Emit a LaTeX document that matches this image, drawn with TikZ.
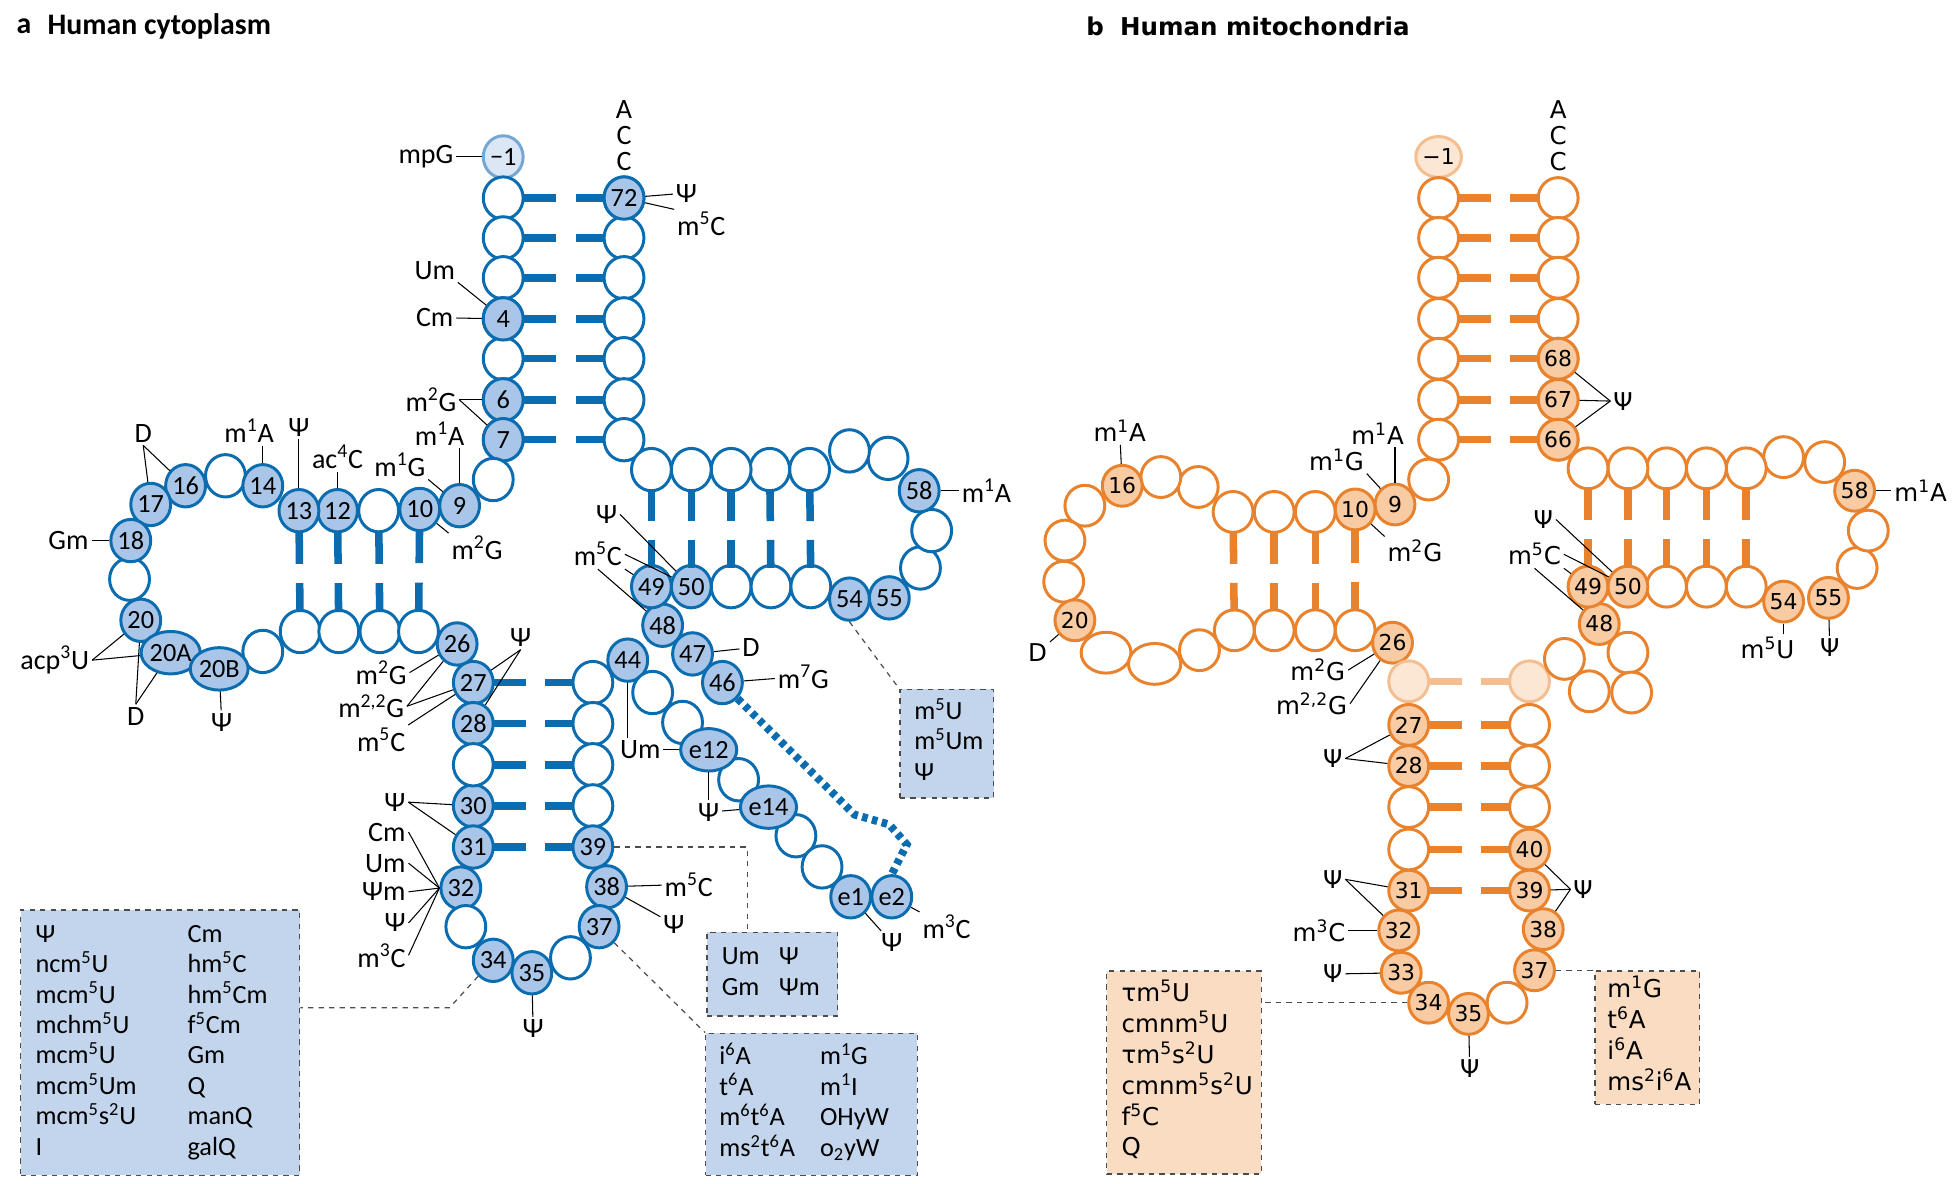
\documentclass[tikz,border=0pt]{standalone}
\usepackage{fontspec}
\setmainfont{Carlito}
\newfontfamily\fb{DejaVu Sans}
\usetikzlibrary{shapes.geometric, calc, positioning}
\definecolor{cblue}{HTML}{0B6DB0}
\definecolor{lblue}{HTML}{A9C6E8}
\definecolor{bxblue}{HTML}{C3D5EC}
\definecolor{fblue}{HTML}{DCE7F5}
\definecolor{fbline}{HTML}{76A6D2}
\definecolor{corange}{HTML}{E9822C}
\definecolor{lorange}{HTML}{F9CBA3}
\definecolor{bxor}{HTML}{FADCC3}
\definecolor{foline}{HTML}{F4BE90}
\definecolor{fofill}{HTML}{FCE6D4}
\newcommand\su[1]{\textsuperscript{#1}}
\newcommand\pairbar[3]{\draw[#1] ($(#2)!0.17!(#3)$) -- ($(#2)!0.44!(#3)$) ($(#2)!0.6!(#3)$) -- ($(#2)!0.84!(#3)$);}

\begin{document}
\begin{tikzpicture}[x=0.025cm, y=-0.025cm,
  nta/.style={ellipse, draw=cblue, line width=1.7pt, fill=white, minimum width=0.8cm, minimum height=0.85cm, inner sep=0pt, font={\fontsize{15}{15}\selectfont}},
  moda/.style={nta, fill=lblue},
  fada/.style={nta, draw=fbline, fill=fblue},
  ntb/.style={ellipse, draw=corange, line width=1.7pt, fill=white, minimum width=0.8cm, minimum height=0.82cm, inner sep=0pt, font={\fb\fontsize{12.5}{12.5}\selectfont}},
  modb/.style={ntb, fill=lorange},
  fadb/.style={ntb, draw=foline, fill=fofill},
  bara/.style={cblue, line width=4.3pt},
  barb/.style={corange, line width=4.3pt},
  laba/.style={inner sep=1.5pt, font={\fontsize{16}{16}\selectfont}},
  labb/.style={inner sep=1.5pt, font={\fb\fontsize{14}{14}\selectfont}},
  ln/.style={line width=0.6pt},
  dsh/.style={line width=0.7pt, dashed, black!70},
  boxa/.style={draw=black!70, dashed, line width=0.8pt, fill=bxblue, align=left, inner ysep=0pt, font={\fontsize{15}{17.4}\selectfont}},
  boxb/.style={draw=black!70, dashed, line width=0.8pt, fill=bxor, align=left, inner ysep=0pt, font={\fb\fontsize{14}{17.4}\selectfont}},
  tit/.style={inner sep=0pt, anchor=west, font={\bfseries\fontsize{17}{17}\selectfont}}]
  \useasboundingbox (0,0) rectangle (1568,950);

  % titles
  \node[tit] (ta) at (13,21) {a};
  \node[tit] (tat) at (38,21) {Human cytoplasm};
  \node[tit, font={\fb\bfseries\fontsize{14}{14}\selectfont}] (tb) at (872,21) {b};
  \node[tit, font={\fb\bfseries\fontsize{14}{14}\selectfont}] (tbt) at (899,21) {Human mitochondria};

  % ---------- a: cytoplasm ----------
  \node[fada] (am1) at (404,126) {−1};
  \foreach \i/\y in {1/159,2/191,3/223,4/256,5/288,6/321,7/353} {
    \node[nta] (aL\i) at (404,\y) {};
    \node[nta] (aR\i) at (501,\y) {};
  }
  \foreach \i/\t in {4/4,6/6,7/7} {\node[moda] at (aL\i) {\t};}
  \node[moda] at (aR1) {72};
  \foreach \i in {1,...,7} {\pairbar{bara}{aL\i}{aR\i}}

  % D arm
  \foreach \n/\x/\y in {a8/396/385, a11/304/410, a15/181/382, a19/104/465, a21/211/523,
      a22/241/507, a23/272/507, a24/305/507, a25/336/507}
    {\node[nta] (\n) at (\x,\y) {};}
  \foreach \n/\x/\y/\t in {a9/369/406/9, a10/337/409/10, a12/271/410/12, a13/240/410/13,
      a14/211/390/14, a16/149/390/16, a17/121/405/17, a18/105/434/18, a20/113/498/20, a26/367/517/26}
    {\node[moda] (\n) at (\x,\y) {\t};}
  \node[moda, minimum width=1.0cm] (a20A) at (137,524) {20A};
  \node[moda, minimum width=1.0cm] (a20B) at (176,537) {20B};
  \foreach \u/\l in {a10/a25, a11/a24, a12/a23, a13/a22} {\pairbar{bara}{\u}{\l}}

  % anticodon arm
  \foreach \n/\y/\t in {a27/548/27, a28/581/28, a30/647/30, a31/680/31}
    {\node[moda] (\n) at (380,\y) {\t};}
  \node[nta] (a29) at (380,614) {};
  \foreach \n/\y in {a43/548, a42/581, a41/614, a40/647} {\node[nta] (\n) at (476,\y) {};}
  \foreach \n/\x/\y/\t in {a39/476/680/39, a38/487/712/38, a37/481/744/37, a35/427/781/35,
      a34/396/771/34, a32/370/713/32, a44/504/530/44}
    {\node[moda] (\n) at (\x,\y) {\t};}
  \node[nta] (a33) at (374,744) {};
  \node[nta] (a36) at (458,769) {};
  \foreach \u/\l in {a27/a43, a28/a42, a29/a41, a30/a40, a31/a39} {\pairbar{bara}{\u}{\l}}

  % variable loop
  \foreach \n/\x/\y in {av1/524/556, av2/548/580, av3/593/626, av4/639/671, av5/660/696}
    {\node[nta] (\n) at (\x,\y) {};}
  \foreach \n/\x/\y/\t in {ae12/569/602/e12, ae14/617/648/e14, ae1/683/720/e1, ae2/716/720/e2,
      a48/532/502/48, a47/556/525/47, a46/580/548/46}
    {\node[moda] (\n) at (\x,\y) {\t};}
  \draw[cblue, line width=4.5pt, dash pattern=on 3.2pt off 2.6pt]
    (a46.south east) -- (686,654) -- (714,662) -- (728,678) -- (ae2.north);

  % T arm
  \foreach \n/\x/\y in {a51/587/471, a52/619/471, a53/651/471, a56/739/456, a57/748/426,
      a59/713/368, a60/682/362, a61/650/377, a62/618/377, a63/587/377, a64/555/377, a65/523/377}
    {\node[nta] (\n) at (\x,\y) {};}
  \foreach \n/\x/\y/\t in {a49/523/471/49, a50/555/471/50, a54/682/481/54, a55/714/480/55, a58/738/394/58}
    {\node[moda] (\n) at (\x,\y) {\t};}
  \foreach \u/\l in {a65/a49, a64/a50, a63/a51, a62/a52, a61/a53} {\pairbar{bara}{\u}{\l}}

  % labels a
  \node[laba] (lmpG) at (342,126) {mpG}; \draw[ln] (lmpG) -- (am1);
  \node[laba] (lA) at (501,88) {A};
  \node[laba] (lC1) at (501,109) {C};
  \node[laba] (lC2) at (501,130) {C};
  \node[laba] (lp72) at (551,155) {Ψ}; \draw[ln] (aR1) -- (lp72);
  \node[laba] (lm72) at (563,180) {m\su{5}C}; \draw[ln] (aR1) -- (lm72.north west);
  \node[laba] (lUm4) at (349,217) {Um}; \draw[ln] (lUm4.south east) -- (aL4);
  \node[laba] (lCm4) at (349,255) {Cm}; \draw[ln] (lCm4) -- (aL4);
  \node[laba] (lm6) at (346,321) {m\su{2}G}; \draw[ln] (lm6) -- (aL6); \draw[ln] (lm6.east) -- (aL7);
  \node[laba] (lm9a) at (353,348) {m\su{1}A}; \draw[ln] (a9.north) -- (a9.north |- lm9a.south);
  \node[laba] (lm9g) at (321,373) {m\su{1}G}; \draw[ln] (lm9g.south east) -- (a9);
  \node[laba] (lm10) at (383,440) {m\su{2}G}; \draw[ln] (a10) -- (lm10.north west);
  \node[laba] (lac12) at (271,367) {ac\su{4}C}; \draw[ln] (lac12) -- (a12);
  \node[laba] (lp13) at (240,343) {Ψ}; \draw[ln] (lp13) -- (a13);
  \node[laba] (lm14) at (200,346) {m\su{1}A}; \draw[ln] (a14.north) -- (a14.north |- lm14.south);
  \node[laba] (lD16) at (115,348) {D}; \draw[ln] (lD16.south) -- (a16); \draw[ln] (lD16.south) -- (a17);
  \node[laba] (lGm) at (55,434) {Gm}; \draw[ln] (lGm) -- (a18);
  \node[laba] (lacp) at (44,530) {acp\su{3}U}; \draw[ln] (lacp.east) -- (a20); \draw[ln] (lacp.east) -- (a20A);
  \node[laba] (lD20) at (109,575) {D}; \draw[ln] (lD20.north) -- (a20); \draw[ln] (lD20.north) -- (a20A);
  \node[laba] (lp20B) at (178,580) {Ψ}; \draw[ln] (a20B) -- (lp20B);
  \node[laba] (lm26a) at (306,540) {m\su{2}G}; \draw[ln] (lm26a.east) -- (a26);
  \node[laba] (lm26b) at (298,567) {m\su{2,2}G}; \draw[ln] (lm26b.east) -- (a26); \draw[ln] (lm26b.east) -- (a27);
  \node[laba] (lm27) at (306,594) {m\su{5}C}; \draw[ln] (lm27.north east) -- (a27);
  \node[laba] (lp27) at (418,512) {Ψ}; \draw[ln] (lp27.south) -- (a27); \draw[ln] (lp27.south) -- (a28);
  \node[laba] (lp30) at (317,644) {Ψ}; \draw[ln] (lp30.east) -- (a30); \draw[ln] (lp30.east) -- (a31);
  \foreach \n/\y/\t in {c/668/Cm, u/693/Um, q/716/Ψm, p/741/Ψ, m/767/m\su{3}C} {
    \node[laba, anchor=east] (l32\n) at (328,\y) {\t};
    \draw[ln] (l32\n.east) -- (a32.west);
  }
  \node[laba] (lm38) at (553,710) {m\su{5}C}; \draw[ln] (a38) -- (lm38);
  \node[laba] (lp38) at (541,742) {Ψ}; \draw[ln] (a38) -- (lp38);
  \node[laba] (lp35) at (428,826) {Ψ}; \draw[ln] (a35) -- (lp35);
  \node[laba] (lUm44) at (514,602) {Um};
  \draw[ln] (a44.south) -- (a44.south |- lUm44.north); \draw[ln] (lUm44) -- (ae12);
  \node[laba] (lpe14) at (569,652) {Ψ};
  \draw[ln] (ae12.south) -- (ae12.south |- lpe14.north); \draw[ln] (lpe14) -- (ae14);
  \node[laba] (lD47) at (603,520) {D}; \draw[ln] (a47) -- (lD47);
  \node[laba] (lm46) at (645,543) {m\su{7}G}; \draw[ln] (a46) -- (lm46);
  \node[laba] (lpe1) at (716,757) {Ψ}; \draw[ln] (ae1) -- (lpe1);
  \node[laba] (lme2) at (760,744) {m\su{3}C}; \draw[ln] (ae2) -- (lme2);
  \node[laba] (lm58) at (792,394) {m\su{1}A}; \draw[ln] (a58) -- (lm58);
  \node[laba] (lp50) at (487,413) {Ψ}; \draw[ln] (lp50.east) -- (a50);
  \node[laba] (lm50) at (480,445) {m\su{5}C};
  \draw[ln] (lm50.east) -- (a50); \draw[ln] (lm50.south east) -- (a49); \draw[ln] (lm50.south) -- (a48);

  % boxes a
  \node[boxa, anchor=north west, text width=5.0cm, inner xsep=0.3cm, minimum height=5.325cm] (boxa1) at (16,730)
    {\begin{tabular}{@{}p{3.05cm}@{}l@{}}
      Ψ & Cm\\ ncm\su{5}U & hm\su{5}C\\ mcm\su{5}U & hm\su{5}Cm\\ mchm\su{5}U & f\su{5}Cm\\
      mcm\su{5}U & Gm\\ mcm\su{5}Um & Q\\ mcm\su{5}s\su{2}U & manQ\\ I & galQ
    \end{tabular}};
  \node[boxa, anchor=north west, text width=2.025cm, inner xsep=0.3cm, minimum height=1.675cm] (boxa2) at (567,748)
    {\begin{tabular}{@{}p{1.15cm}@{}l@{}} Um & Ψ\\ Gm & Ψm \end{tabular}};
  \node[boxa, anchor=north west, text width=3.7cm, inner xsep=0.275cm, minimum height=2.85cm] (boxa3) at (566,829)
    {\begin{tabular}{@{}p{2.02cm}@{}l@{}} i\su{6}A & m\su{1}G\\ t\su{6}A & m\su{1}I\\ m\su{6}t\su{6}A & OHyW\\ ms\su{2}t\su{6}A & o\textsubscript{2}yW \end{tabular}};
  \node[boxa, anchor=north west, text width=1.3cm, inner xsep=0.29cm, minimum height=2.175cm] (boxa4) at (722,553)
    {\begin{tabular}{@{}l@{}} m\su{5}U\\ m\su{5}Um\\ Ψ \end{tabular}};
  \draw[dsh] (a34.south west) -- (361,809) -- (boxa1.east |- 0,809);
  \draw[dsh] (a39.east) -- (600,680) -- (boxa2.north -| 600,0);
  \draw[dsh] (a37.south east) -- (boxa3.north west);
  \draw[dsh] (a54.south) -- (boxa4.north west);

  % ---------- b: mitochondria ----------
  \node[fadb] (bm1) at (1155,126) {−1};
  \foreach \i/\y in {1/159,2/191,3/223,4/256,5/288,6/321,7/353} {
    \node[ntb] (bL\i) at (1155,\y) {};
    \node[ntb] (bR\i) at (1251,\y) {};
  }
  \foreach \i/\t in {5/68,6/67,7/66} {\node[modb] at (bR\i) {\t};}
  \foreach \i in {1,...,7} {\pairbar{barb}{bL\i}{bR\i}}

  % D arm
  \foreach \n/\x/\y in {b8/1147/385, b11/1056/411, b12/1023/411, b13/990/411, b14/962/391, b15/932/383,
      b17/871/406, b18/855/434, b19/854/467, b23/963/522, b24/991/506, b25/1023/506, b25a/1056/506, b25b/1088/506}
    {\node[ntb] (\n) at (\x,\y) {};}
  \node[ntb, minimum width=1.0cm] (b21) at (888,524) {};
  \node[ntb, minimum width=1.05cm] (b22) at (927,533) {};
  \foreach \n/\x/\y/\t in {b9/1120/405/9, b10/1088/409/10, b16/901/390/16, b20/863/498/20, b26/1118/516/26}
    {\node[modb] (\n) at (\x,\y) {\t};}
  \foreach \u/\l in {b10/b25b, b11/b25a, b12/b25, b13/b24} {\pairbar{barb}{\u}{\l}}

  % anticodon arm
  \node[fadb] (bf1) at (1131,547) {};
  \node[fadb] (bf2) at (1228,547) {};
  \pairbar{foline, line width=4.3pt}{bf1}{bf2}
  \foreach \n/\y/\t in {b27/582/27, b28/615/28, b31/715/31} {\node[modb] (\n) at (1131,\y) {\t};}
  \foreach \n/\y in {b29/648, b30/682} {\node[ntb] (\n) at (1131,\y) {};}
  \foreach \n/\y in {b43/582, b42/615, b41/648} {\node[ntb] (\n) at (1228,\y) {};}
  \foreach \n/\x/\y/\t in {b40/1228/682/40, b39/1228/715/39, b38/1239/746/38, b37/1232/779/37,
      b35/1179/814/35, b34/1147/805/34, b33/1125/781/33, b32/1123/747/32}
    {\node[modb] (\n) at (\x,\y) {\t};}
  \node[ntb] (b36) at (1210,805) {};
  \foreach \u/\l in {b27/b43, b28/b42, b29/b41, b30/b40, b31/b39} {\pairbar{barb}{\u}{\l}}

  % variable loop
  \foreach \n/\x/\y in {bv1/1256/529, bv2/1307/524, bv3/1276/555, bv4/1310/556}
    {\node[ntb] (\n) at (\x,\y) {};}

  % T arm
  \foreach \n/\x/\y in {b51/1338/471, b52/1370/471, b53/1402/471, b56/1491/456, b57/1500/426,
      b59/1465/371, b60/1432/367, b61/1402/376, b62/1370/376, b63/1338/376, b64/1307/376, b65/1275/376}
    {\node[ntb] (\n) at (\x,\y) {};}
  \foreach \n/\x/\y/\t in {b48/1284/501/48, b49/1275/471/49, b50/1307/471/50, b54/1432/483/54,
      b55/1468/480/55, b58/1489/394/58}
    {\node[modb] (\n) at (\x,\y) {\t};}
  \foreach \u/\l in {b65/b49, b64/b50, b63/b51, b62/b52, b61/b53} {\pairbar{barb}{\u}{\l}}

  % labels b
  \node[labb] (bA) at (1251,88) {A};
  \node[labb] (bC1) at (1251,109) {C};
  \node[labb] (bC2) at (1251,130) {C};
  \node[labb] (bp68) at (1303,322) {Ψ};
  \foreach \n in {bR5,bR6,bR7} {\draw[ln] (bp68.west) -- (\n);}
  \node[labb] (bm9a) at (1106,348) {m\su{1}A}; \draw[ln] (b9.north) -- (b9.north |- bm9a.south);
  \node[labb] (bm9g) at (1073,369) {m\su{1}G}; \draw[ln] (bm9g.south east) -- (b9);
  \node[labb] (bm10) at (1136,442) {m\su{2}G}; \draw[ln] (b10) -- (bm10.north west);
  \node[labb] (bm16) at (899,346) {m\su{1}A}; \draw[ln] (b16) -- (bm16);
  \node[labb] (bD20) at (833,524) {D}; \draw[ln] (b20) -- (bD20);
  \node[labb] (bm26a) at (1058,538) {m\su{2}G}; \draw[ln] (bm26a.east) -- (b26);
  \node[labb] (bm26b) at (1053,565) {m\su{2,2}G}; \draw[ln] (bm26b.east) -- (b26);
  \node[labb] (bp27) at (1070,609) {Ψ}; \draw[ln] (bp27.east) -- (b27); \draw[ln] (bp27.east) -- (b28);
  \node[labb] (bp31) at (1070,706) {Ψ}; \draw[ln] (bp31.east) -- (b31); \draw[ln] (bp31.east) -- (b32);
  \node[labb] (bm32) at (1059,747) {m\su{3}C}; \draw[ln] (bm32) -- (b32);
  \node[labb] (bp33) at (1070,782) {Ψ}; \draw[ln] (bp33) -- (b33);
  \node[labb] (bp39) at (1271,714) {Ψ};
  \foreach \n in {b40,b39,b38} {\draw[ln] (bp39.west) -- (\n);}
  \node[labb] (bp35) at (1180,858) {Ψ}; \draw[ln] (b35) -- (bp35);
  \node[labb] (bm58) at (1542,394) {m\su{1}A}; \draw[ln] (b58) -- (bm58);
  \node[labb] (bm54) at (1419,520) {m\su{5}U}; \draw[ln] (b54) -- (b54 |- bm54.north);
  \node[labb] (bp55) at (1469,520) {Ψ}; \draw[ln] (b55) -- (bp55);
  \node[labb] (bp50) at (1239,417) {Ψ}; \draw[ln] (bp50.east) -- (b50);
  \node[labb] (bm50) at (1232,445) {m\su{5}C};
  \draw[ln] (bm50.east) -- (b50); \draw[ln] (bm50.south east) -- (b49); \draw[ln] (bm50.south) -- (b48);

  % boxes b
  \node[boxb, anchor=north west, text width=2.5cm, inner xsep=0.3cm, minimum height=4.075cm] (boxb1) at (888,779)
    {\begin{tabular}{@{}l@{}} τm\su{5}U\\ cmnm\su{5}U\\ τm\su{5}s\su{2}U\\ cmnm\su{5}s\su{2}U\\ f\su{5}C\\ Q \end{tabular}};
  \node[boxb, anchor=north west, text width=1.6cm, inner xsep=0.25cm, minimum height=2.675cm] (boxb2) at (1280,779)
    {\begin{tabular}{@{}l@{}} m\su{1}G\\ t\su{6}A\\ i\su{6}A\\ ms\su{2}i\su{6}A \end{tabular}};
  \draw[dsh] (b34.west) -- (b34.west -| boxb1.east);
  \draw[dsh] (b37.east) -- (b37.east -| boxb2.west);
\end{tikzpicture}
\end{document}
